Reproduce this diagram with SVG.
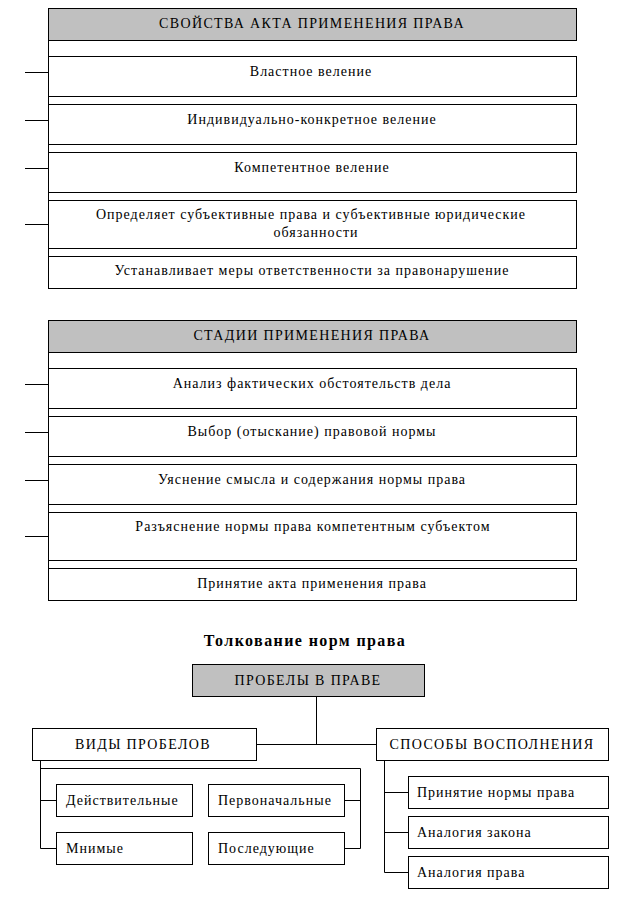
<svg xmlns="http://www.w3.org/2000/svg" width="641" height="905" viewBox="0 0 641 905">
<style>
rect{fill:#fff;stroke:#000;stroke-width:1}
rect.h{fill:#c0c0c0}
.c line,.c path{stroke:#000;stroke-width:1;fill:none}
text{font-family:"Liberation Serif","Times New Roman",serif;font-size:14px;fill:#000;letter-spacing:1px}
.m{text-anchor:middle}
.u{letter-spacing:1.35px}
.t{font-weight:bold;font-size:16px;letter-spacing:1.4px}
</style>
<rect width="641" height="905" style="fill:#fff;stroke:none"/>
<g class="c" id="connectors">
<line x1="48.5" y1="8" x2="48.5" y2="289"/>
<line x1="25" y1="72.5" x2="48.5" y2="72.5"/>
<line x1="25" y1="120.5" x2="48.5" y2="120.5"/>
<line x1="25" y1="168.5" x2="48.5" y2="168.5"/>
<line x1="25" y1="224.5" x2="48.5" y2="224.5"/>
<line x1="48.5" y1="320" x2="48.5" y2="601"/>
<line x1="25" y1="384.5" x2="48.5" y2="384.5"/>
<line x1="25" y1="432.5" x2="48.5" y2="432.5"/>
<line x1="25" y1="480.5" x2="48.5" y2="480.5"/>
<line x1="25" y1="536.5" x2="48.5" y2="536.5"/>
<path d="M316.5 696.5V744.5M256.5 744.5H376.5"/>
<path d="M40.5 760.5V848.5H56.5M40.5 800.5H56.5M40.5 768.5H360.5V848.5H344.5M344.5 800.5H360.5"/>
<path d="M384.5 760.5V872.5H408.5M384.5 792.5H408.5M384.5 832.5H408.5"/>
</g>
<g id="n1"><rect class="h" x="48.5" y="8.5" width="528" height="32"/><text class="m u" x="312" y="28">СВОЙСТВА АКТА ПРИМЕНЕНИЯ ПРАВА</text></g>
<g id="n2"><rect x="48.5" y="56.5" width="528" height="40"/><text class="m" x="311" y="76">Властное веление</text></g>
<g id="n3"><rect x="48.5" y="104.5" width="528" height="40"/><text class="m" x="312" y="124">Индивидуально-конкретное веление</text></g>
<g id="n4"><rect x="48.5" y="152.5" width="528" height="40"/><text class="m" x="312" y="172">Компетентное веление</text></g>
<g id="n5"><rect x="48.5" y="200.5" width="528" height="48"/><text class="m" x="311" y="219">Определяет субъективные права и субъективные юридические</text><text class="m" x="316" y="237">обязанности</text></g>
<g id="n6"><rect x="48.5" y="256.5" width="528" height="32"/><text class="m" x="312" y="275">Устанавливает меры ответственности за правонарушение</text></g>
<g id="n7"><rect class="h" x="48.5" y="320.5" width="528" height="32"/><text class="m u" x="312" y="340">СТАДИИ ПРИМЕНЕНИЯ ПРАВА</text></g>
<g id="n8"><rect x="48.5" y="368.5" width="528" height="40"/><text class="m" x="312" y="388">Анализ фактических обстоятельств дела</text></g>
<g id="n9"><rect x="48.5" y="416.5" width="528" height="40"/><text class="m" x="312" y="436">Выбор (отыскание) правовой нормы</text></g>
<g id="n10"><rect x="48.5" y="464.5" width="528" height="40"/><text class="m" x="312" y="484">Уяснение смысла и содержания нормы права</text></g>
<g id="n11"><rect x="48.5" y="512.5" width="528" height="48"/><text class="m" x="313" y="531">Разъяснение нормы права компетентным субъектом</text></g>
<g id="n12"><rect x="48.5" y="568.5" width="528" height="32"/><text class="m" x="312" y="588">Принятие акта применения права</text></g>
<text id="title" class="m t" x="305" y="646">Толкование норм права</text>
<g id="n13"><rect class="h" x="192.5" y="664.5" width="232" height="32"/><text class="m u" x="308" y="685">ПРОБЕЛЫ В ПРАВЕ</text></g>
<g id="n14"><rect x="32.5" y="728.5" width="224" height="32"/><text class="m u" x="143" y="749">ВИДЫ ПРОБЕЛОВ</text></g>
<g id="n15"><rect x="376.5" y="728.5" width="232" height="32"/><text class="m u" x="492" y="749">СПОСОБЫ ВОСПОЛНЕНИЯ</text></g>
<g id="n16"><rect x="56.5" y="784.5" width="136" height="32"/><text x="66" y="805">Действительные</text></g>
<g id="n17"><rect x="208.5" y="784.5" width="136" height="32"/><text x="218" y="805">Первоначальные</text></g>
<g id="n18"><rect x="56.5" y="832.5" width="136" height="32"/><text x="66" y="853">Мнимые</text></g>
<g id="n19"><rect x="208.5" y="832.5" width="136" height="32"/><text x="218" y="853">Последующие</text></g>
<g id="n20"><rect x="408.5" y="776.5" width="200" height="32"/><text x="417" y="797">Принятие нормы права</text></g>
<g id="n21"><rect x="408.5" y="816.5" width="200" height="32"/><text x="417" y="837">Аналогия закона</text></g>
<g id="n22"><rect x="408.5" y="856.5" width="200" height="32"/><text x="417" y="877">Аналогия права</text></g>
</svg>
